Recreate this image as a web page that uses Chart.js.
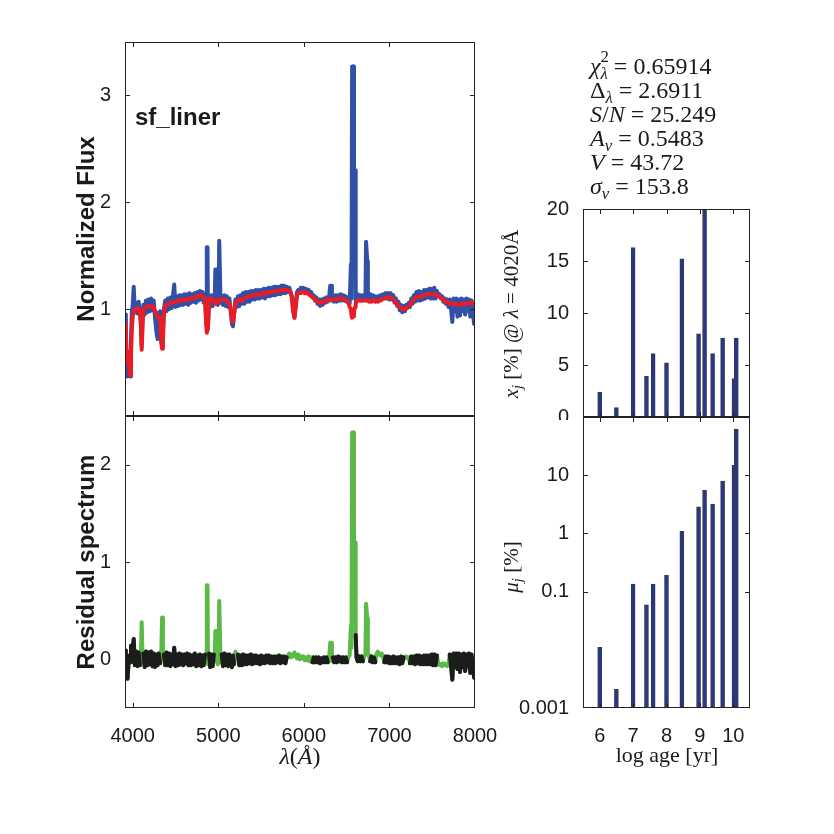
<!DOCTYPE html>
<html lang="en">
<head>
<meta charset="utf-8">
<title>sf_liner spectral fit</title>
<script src="https://cdn.jsdelivr.net/npm/chart.js@4.4.0/dist/chart.umd.min.js"></script>
<style>
	body { margin: 0; background: #fff; }
	#page { position: relative; width: 834px; height: 834px; overflow: hidden; background: #fff; }
	.panel { position: absolute; }
	.lbl { position: absolute; color: #1a1a1a; white-space: nowrap; }
	.sans { font-family: "Liberation Sans", Arial, sans-serif; }
	.serif { font-family: "Liberation Serif", "DejaVu Serif", serif; }
	.rot { transform: rotate(-90deg); text-align: center; }
	#stats div { height: 24px; }
	.lo { position: relative; top: 0.3em; font-size: 0.7em; }
	.hi { position: absolute; top: -0.45em; left: 0; font-size: 0.7em; }
</style>
<script>
	// spectrum (wavelength in Angstrom)
	const wavelength = [
		3910,3920,3930,3940,3950,3960,3970,3980,3990,4000,
		4012,4025,4040,4055,4070,4085,4095,4105,4115,4125,
		4140,4155,4170,4185,4200,4215,4230,4245,4260,4275,
		4290,4305,4320,4333,4343,4353,4365,4380,4395,4410,
		4425,4440,4455,4470,4485,4500,4515,4530,4545,4560,
		4575,4590,4605,4620,4635,4650,4665,4680,4695,4710,
		4725,4740,4755,4770,4785,4800,4815,4830,4845,4860,
		4866,4874,4880,4892,4905,4920,4935,4948,4958,4966,
		4974,4982,4995,5005,5011,5019,5027,5040,5055,5070,
		5085,5100,5115,5130,5145,5160,5172,5185,5200,5215,
		5230,5245,5260,5275,5290,5305,5320,5335,5350,5365,
		5380,5395,5410,5425,5440,5455,5470,5485,5500,5515,
		5530,5545,5560,5575,5590,5605,5620,5635,5650,5665,
		5680,5695,5710,5725,5740,5755,5770,5785,5800,5815,
		5830,5845,5860,5875,5890,5905,5920,5935,5950,5965,
		5980,5995,6010,6025,6040,6055,6070,6085,6100,6115,
		6130,6145,6160,6175,6190,6205,6220,6235,6250,6265,
		6280,6295,6308,6318,6328,6340,6355,6370,6385,6400,
		6415,6430,6445,6460,6475,6490,6505,6520,6535,6550,
		6557,6564,6576,6586,6598,6606,6615,6630,6645,6660,
		6675,6690,6705,6720,6727,6735,6741,6748,6760,6775,
		6790,6805,6820,6835,6850,6865,6880,6895,6910,6925,
		6940,6955,6970,6985,7000,7015,7030,7045,7060,7075,
		7090,7105,7120,7135,7150,7165,7180,7195,7210,7225,
		7240,7255,7270,7285,7300,7315,7330,7345,7360,7375,
		7390,7405,7420,7435,7450,7465,7480,7495,7510,7525,
		7540,7555,7570,7585,7600,7615,7630,7645,7660,7675,
		7690,7705,7720,7735,7750,7765,7780,7795,7810,7825,
		7840,7855,7870,7885,7900,7915,7930,7945,7960,7975,
		7990,8000
	];
	const observedFlux = [
		.95,.84,.46,.37,.52,.40,.37,.72,.97,1.04,
		1.21,.97,1.06,.96,1.07,.95,.90,.66,.90,1.04,
		.95,1.08,.97,1.09,.98,1.10,.99,1.08,.93,.80,
		.72,.86,.98,.70,.66,.78,1.00,1.08,.98,1.10,
		1.00,1.11,1.01,1.12,1.23,1.02,1.12,1.03,1.13,1.04,
		1.13,1.04,1.14,1.05,1.14,1.04,1.15,1.06,1.14,1.07,
		1.15,1.06,1.16,1.08,1.17,1.09,1.16,1.06,1.14,.85,
		1.58,1.58,.82,1.10,1.02,1.13,1.03,1.10,1.10,1.37,
		1.37,1.05,1.04,1.15,1.64,1.64,1.06,1.12,1.04,1.13,
		1.03,1.12,1.02,1.10,.98,.86,.84,.95,1.09,1.02,
		1.12,1.03,1.13,1.05,1.15,1.05,1.16,1.07,1.16,1.07,
		1.17,1.09,1.17,1.09,1.18,1.10,1.18,1.10,1.18,1.11,
		1.19,1.10,1.19,1.12,1.20,1.12,1.20,1.13,1.21,1.13,
		1.21,1.14,1.21,1.14,1.22,1.15,1.22,1.15,1.21,1.16,
		1.20,1.16,1.12,1.00,.92,1.05,1.16,1.18,1.16,1.20,
		1.17,1.20,1.16,1.19,1.15,1.18,1.14,1.16,1.12,1.13,
		1.08,1.11,1.05,1.09,1.03,1.09,1.04,1.10,1.06,1.11,
		1.07,1.11,1.22,1.22,1.08,1.12,1.07,1.13,1.07,1.13,
		1.08,1.14,1.08,1.13,1.08,1.12,1.07,1.10,1.05,1.42,
		1.10,3.27,3.27,2.30,2.30,1.08,1.09,1.14,1.09,1.13,
		1.08,1.13,1.10,1.12,1.63,1.63,1.45,1.12,1.10,1.14,
		1.08,1.13,1.08,1.12,1.10,1.12,1.09,1.13,1.09,1.14,
		1.10,1.15,1.10,1.15,1.09,1.15,1.09,1.13,1.06,1.10,
		1.03,1.07,.99,1.04,.97,1.03,.98,1.04,1.01,1.06,
		1.02,1.10,1.05,1.13,1.07,1.16,1.08,1.17,1.08,1.16,
		1.09,1.18,1.10,1.18,1.11,1.19,1.10,1.19,1.10,1.20,
		1.10,1.17,1.12,1.14,1.10,1.12,1.07,1.10,1.05,1.09,
		1.02,1.09,1.00,.88,1.10,.98,1.10,.93,1.09,.94,
		1.10,.98,1.09,.95,1.10,.98,1.09,.93,1.08,.96,
		.86,1.02
	];
	const modelFlux = [
		.86,.75,.56,.50,.60,.45,.38,.56,.82,.93,
		.98,1.00,1.00,1.01,1.00,.98,.85,.62,.86,1.00,
		1.01,1.02,1.02,1.03,1.02,1.03,1.03,1.02,.98,.97,
		.93,.92,.92,.70,.63,.72,.96,1.03,1.04,1.05,
		1.05,1.06,1.06,1.06,1.07,1.07,1.07,1.08,1.08,1.08,
		1.09,1.09,1.09,1.08,1.09,1.09,1.10,1.10,1.10,1.11,
		1.11,1.11,1.12,1.12,1.13,1.13,1.12,1.10,1.10,.85,
		.78,.80,.86,1.08,1.10,1.10,1.09,1.08,1.05,1.05,
		1.06,1.08,1.07,1.08,1.08,1.09,1.09,1.09,1.09,1.09,
		1.08,1.08,1.07,1.05,1.00,.90,.88,.96,1.04,1.07,
		1.08,1.08,1.09,1.08,1.09,1.10,1.11,1.11,1.12,1.12,
		1.12,1.13,1.13,1.13,1.14,1.14,1.14,1.13,1.14,1.15,
		1.15,1.14,1.15,1.15,1.16,1.16,1.16,1.16,1.17,1.17,
		1.17,1.17,1.17,1.18,1.18,1.18,1.18,1.18,1.18,1.17,
		1.17,1.16,1.10,.98,.92,1.02,1.13,1.15,1.15,1.15,
		1.16,1.16,1.15,1.16,1.15,1.14,1.13,1.12,1.11,1.10,
		1.09,1.08,1.07,1.06,1.06,1.06,1.07,1.07,1.08,1.08,
		1.09,1.09,1.09,1.09,1.09,1.09,1.09,1.09,1.10,1.09,
		1.10,1.10,1.10,1.10,1.09,1.08,1.08,1.06,1.02,1.00,
		.94,.92,.93,.98,1.02,1.05,1.07,1.08,1.08,1.08,
		1.08,1.08,1.08,1.08,1.08,1.08,1.08,1.08,1.07,1.08,
		1.07,1.08,1.08,1.07,1.08,1.07,1.08,1.08,1.09,1.10,
		1.10,1.11,1.11,1.11,1.11,1.11,1.10,1.09,1.07,1.06,
		1.05,1.03,1.02,1.01,1.00,1.00,1.00,1.01,1.02,1.03,
		1.04,1.06,1.08,1.09,1.10,1.11,1.11,1.12,1.12,1.12,
		1.13,1.13,1.13,1.14,1.14,1.14,1.14,1.14,1.14,1.14,
		1.13,1.13,1.12,1.12,1.11,1.10,1.09,1.08,1.07,1.06,
		1.06,1.05,1.05,1.05,1.05,1.05,1.05,1.04,1.04,1.04,
		1.05,1.05,1.05,1.05,1.05,1.05,1.06,1.06,1.06,1.05,
		1.05,1.06
	];
	const residualFlux = [
		.09,.02,-.10,-.20,-.06,.04,-.03,.14,.12,.10,
		.21,-.06,.08,-.07,.07,-.06,.02,.38,.01,.06,
		-.08,.08,-.06,.07,-.05,.08,-.07,.06,-.08,.05,
		-.06,.06,-.04,.02,.43,.02,.05,-.06,.07,-.06,
		.06,-.07,.05,-.05,.12,-.07,.05,-.06,.06,-.05,
		.05,-.06,.05,-.04,.06,-.06,.05,-.06,.04,-.05,
		.06,-.07,.04,-.06,.05,-.07,.04,-.06,.05,.00,
		.76,.76,-.05,.06,-.08,.05,-.07,.05,.03,.29,
		.29,-.02,-.05,.05,.60,.60,-.03,.05,-.07,.06,
		-.06,.05,-.07,.05,-.05,-.08,.04,-.05,.08,.02,
		.05,-.06,.04,-.06,.05,-.05,.04,-.05,.04,-.04,
		.05,-.05,.04,-.04,.04,-.04,.03,-.05,.04,-.04,
		.03,-.04,.04,-.03,.04,-.04,.03,-.04,.03,-.04,
		.03,-.03,.04,-.04,.03,-.03,.03,-.04,.02,.04,
		.06,.02,.05,.03,.07,.04,.01,.05,.00,.03,
		.01,.03,-.01,.02,-.01,.03,-.02,.02,-.03,.02,
		-.03,.02,-.03,.02,-.04,.01,-.03,.02,-.03,.02,
		-.03,.01,.17,.17,-.02,.02,-.03,.02,-.03,.03,
		-.02,.02,-.03,.02,-.03,.02,-.03,.02,.04,.35,
		.12,2.33,2.33,1.20,1.20,.25,.02,-.02,.03,-.02,
		.03,-.02,.03,.05,.57,.57,.42,.06,.04,-.02,
		.03,-.03,.02,-.03,.06,.08,.05,.04,.06,.03,
		-.03,.03,-.03,.03,-.04,.02,-.04,.03,-.04,.02,
		-.04,.02,-.05,.03,-.04,.02,.01,.03,.01,.02,
		-.04,.03,-.04,.03,-.05,.04,-.04,.04,-.05,.03,
		-.05,.04,-.05,.04,-.05,.04,-.05,.05,-.06,.05,
		-.06,.04,-.04,-.06,-.05,-.07,-.04,-.06,-.05,-.07,
		-.04,.05,-.07,-.21,.06,-.08,.06,-.10,.06,-.13,
		.05,-.08,.06,-.12,.05,-.07,.06,-.14,.05,-.08,
		-.19,-.04
	];
	// 1 = pixel masked from the fit (drawn green in the residual)
	const maskedPixel = [
		0,0,0,0,0,0,0,0,0,0,
		0,0,0,0,0,0,1,1,1,0,
		0,0,0,0,0,0,0,0,0,0,
		0,0,0,1,1,1,0,0,0,0,
		0,0,0,0,0,0,0,0,0,0,
		0,0,0,0,0,0,0,0,0,0,
		0,0,0,0,0,0,0,0,0,1,
		1,1,1,0,0,0,0,0,1,1,
		1,1,1,1,1,1,1,0,0,0,
		0,0,0,0,0,0,0,0,1,1,
		0,0,0,0,0,0,0,0,0,0,
		0,0,0,0,0,0,0,0,0,0,
		0,0,0,0,0,0,0,0,0,0,
		0,0,0,0,0,0,0,0,0,1,
		1,1,1,1,1,1,1,1,1,1,
		1,1,1,1,1,1,1,1,0,0,
		0,0,0,0,0,0,0,0,0,0,
		0,1,1,1,1,0,0,0,0,0,
		0,0,0,0,0,0,0,1,1,1,
		1,1,1,1,1,0,0,0,0,0,
		0,0,1,1,1,1,1,1,1,0,
		0,0,0,0,1,1,1,1,1,1,
		0,0,0,0,0,0,0,0,0,0,
		0,0,0,0,0,0,1,1,1,1,
		0,0,0,0,0,0,0,0,0,0,
		0,0,0,0,0,0,0,0,0,0,
		0,0,1,1,1,1,1,1,1,1,
		1,0,0,0,0,0,0,0,0,0,
		0,0,0,0,0,0,0,0,0,0,
		0,0
	];

	// population vectors
	const logAge = [6.0, 6.5, 7.0, 7.4, 7.6, 8.0, 8.46, 8.96, 9.14, 9.38, 9.68, 10.02, 10.09];
	const lightFraction = [2.4, 0.9, 16.3, 3.9, 6.1, 5.2, 15.2, 8.0, 19.9, 6.1, 7.6, 3.7, 7.6];
	const massFraction = [0.011, 0.0021, 0.135, 0.059, 0.135, 0.19, 1.08, 2.85, 5.5, 3.2, 7.9, 14.8, 62];

	// tick values
	const waveTicks = [4000, 5000, 6000, 7000, 8000];
	const fluxTicks = [1, 2, 3];
	const residTicks = [0, 1, 2];
	const ageTicks = [6, 7, 8, 9, 10];
	const lightTicks = [0, 5, 10, 15, 20];
	const massTicks = [0.001, 0.1, 1, 10];
</script>
</head>

<body>
	<div id="page">
		<div class="panel" style="left:0;top:0;width:520px;height:420px;"><canvas id="fluxChart"></canvas></div>
		<div class="panel" style="left:0;top:410px;width:520px;height:424px;"><canvas id="residChart"></canvas></div>
		<div class="panel" style="left:500px;top:0;width:334px;height:420px;"><canvas id="lightChart"></canvas></div>
		<div class="panel" style="left:500px;top:410px;width:334px;height:424px;"><canvas id="massChart"></canvas></div>

		<div class="lbl sans" style="left:135px;top:105px;font-size:24px;font-weight:bold;line-height:24px;">sf_liner</div>
		<div class="lbl sans rot" style="left:-44px;top:214px;width:260px;height:30px;line-height:30px;font-size:24px;font-weight:bold;">Normalized Flux</div>
		<div class="lbl sans rot" style="left:-44px;top:547px;width:260px;height:30px;line-height:30px;font-size:24px;font-weight:bold;">Residual spectrum</div>
		<div class="lbl serif" style="left:250px;top:741px;width:100px;height:30px;line-height:30px;font-size:24px;text-align:center;"><i>λ</i>(<i>Å</i>)</div>

		<div class="lbl serif" id="stats" style="left:590px;top:54px;font-size:24px;line-height:24px;">
			<div><i>χ</i><span style="position:relative;"><span class="hi">2</span><span class="lo"><i>λ</i></span></span> = 0.65914</div>
			<div>Δ<span class="lo"><i>λ</i></span> = 2.6911</div>
			<div><i>S</i>/<i>N</i> = 25.249</div>
			<div><i>A</i><span class="lo"><i>v</i></span> = 0.5483</div>
			<div><i>V</i> = 43.72</div>
			<div><i>σ</i><span class="lo"><i>v</i></span> = 153.8</div>
		</div>
		<div class="lbl serif rot" style="left:396px;top:301px;width:230px;height:26px;line-height:26px;font-size:21px;"><i>x</i><span class="lo"><i>j</i></span> [%] @ <i>λ</i> = 4020Å</div>
		<div class="lbl serif rot" style="left:396px;top:554px;width:230px;height:26px;line-height:26px;font-size:21px;"><i>μ</i><span class="lo"><i>j</i></span> [%]</div>
		<div class="lbl serif" style="left:587px;top:740px;width:160px;height:30px;line-height:30px;font-size:22px;text-align:center;">log age [yr]</div>
	</div>

	<script>
		const tickFont = { family: 'Liberation Sans', size: 20 };
		const ink = '#1a1a1a';

		// box around the plot area with inward tick marks on all four sides
		const frameTicks = {
			id: 'frameTicks',
			afterDatasetsDraw(chart) {
				const { ctx, chartArea: a } = chart;
				const xs = chart.scales.x, ys = chart.scales.y;
				const len = 5;
				ctx.save();
				ctx.strokeStyle = '#222';
				ctx.lineWidth = 1;
				ctx.beginPath();
				xs.ticks.forEach(t => {
					const px = Math.round(xs.getPixelForValue(t.value)) + 0.5;
					if (px < a.left + 2 || px > a.right - 2) return;
					ctx.moveTo(px, a.bottom); ctx.lineTo(px, a.bottom - len);
					ctx.moveTo(px, a.top); ctx.lineTo(px, a.top + len);
				});
				ys.ticks.forEach(t => {
					const py = Math.round(ys.getPixelForValue(t.value)) + 0.5;
					if (py < a.top + 2 || py > a.bottom - 2) return;
					ctx.moveTo(a.left, py); ctx.lineTo(a.left + len, py);
					ctx.moveTo(a.right, py); ctx.lineTo(a.right - len, py);
				});
				ctx.stroke();
				ctx.strokeRect(Math.round(a.left) + 0.5, Math.round(a.top) + 0.5, Math.round(a.width) - 1, Math.round(a.height) - 1);
				ctx.restore();
			}
		};

		function setTicks(list) {
			return function (scale) { scale.ticks = list.map(v => ({ value: v })); };
		}

		function xAxis(min, max, list, showLabels) {
			return {
				type: 'linear', min: min, max: max, offset: false,
				afterBuildTicks: setTicks(list),
				ticks: { display: showLabels, font: tickFont, color: ink, padding: 8, maxRotation: 0, callback: v => String(v) },
				grid: { display: false }, border: { display: false },
				afterFit: s => {
					s.height = showLabels ? 40 : 0;
					s.paddingLeft = 0;
					s.paddingRight = 0;
				}
			};
		}

		function yAxis(min, max, list, width, type) {
			return {
				type: type || 'linear', min: min, max: max,
				afterBuildTicks: setTicks(list),
				ticks: { font: tickFont, color: ink, padding: 6, callback: v => String(v) },
				grid: { display: false }, border: { display: false },
				afterFit: s => {
					s.width = width;
					s.paddingTop = 0;
					s.paddingBottom = 0;
				}
			};
		}

		const common = {
			animation: false,
			responsive: true,
			maintainAspectRatio: false,
			plugins: { legend: { display: false }, tooltip: { enabled: false } }
		};

		const obsPts = wavelength.map((w, i) => ({ x: w, y: observedFlux[i] }));
		const modelPts = wavelength.map((w, i) => ({ x: w, y: modelFlux[i] }));
		const residAll = wavelength.map((w, i) => ({ x: w, y: residualFlux[i] }));
		const residFit = wavelength.map((w, i) => ({ x: w, y: maskedPixel[i] ? null : residualFlux[i] }));

		const lineStyle = { pointRadius: 0, borderWidth: 4, tension: 0, borderJoinStyle: 'round', borderCapStyle: 'round', fill: false };

		// first dataset is drawn on top
		new Chart(document.getElementById('fluxChart'), {
			type: 'line',
			data: {
				datasets: [
					Object.assign({ label: 'Model', data: modelPts, borderColor: '#ec1c24' }, lineStyle),
					Object.assign({ label: 'Observed', data: obsPts, borderColor: '#3151a6' }, lineStyle)
				]
			},
			options: Object.assign({}, common, {
				layout: { padding: { top: 42, right: 45, bottom: 4, left: 0 } },
				scales: { x: xAxis(3910, 8000, waveTicks, false), y: yAxis(0, 3.5, fluxTicks, 125) }
			}),
			plugins: [frameTicks]
		});

		new Chart(document.getElementById('residChart'), {
			type: 'line',
			data: {
				datasets: [
					Object.assign({ label: 'Fitted', data: residFit, borderColor: '#1c1c1c', spanGaps: false }, lineStyle),
					Object.assign({ label: 'Masked', data: residAll, borderColor: '#5bb947' }, lineStyle)
				]
			},
			options: Object.assign({}, common, {
				layout: { padding: { top: 6, right: 45, bottom: 86, left: 0 } },
				scales: { x: xAxis(3910, 8000, waveTicks, true), y: yAxis(-0.5, 2.5, residTicks, 125) }
			}),
			plugins: [frameTicks]
		});

		const barStyle = { backgroundColor: '#24378e', borderColor: '#3a3a44', borderWidth: 1, barThickness: 4 };

		new Chart(document.getElementById('lightChart'), {
			type: 'bar',
			data: { datasets: [Object.assign({ label: 'x_j', data: logAge.map((a, i) => ({ x: a, y: lightFraction[i] })) }, barStyle)] },
			options: Object.assign({}, common, {
				layout: { padding: { top: 209, right: 84, bottom: 3, left: 0 } },
				scales: { x: xAxis(5.5, 10.5, ageTicks, false), y: yAxis(0, 20, lightTicks, 83) }
			}),
			plugins: [frameTicks]
		});

		new Chart(document.getElementById('massChart'), {
			type: 'bar',
			data: { datasets: [Object.assign({ label: 'mu_j', data: logAge.map((a, i) => ({ x: a, y: massFraction[i] })) }, barStyle)] },
			options: Object.assign({}, common, {
				layout: { padding: { top: 7, right: 84, bottom: 86, left: 0 } },
				scales: { x: xAxis(5.5, 10.5, ageTicks, true), y: yAxis(0.001, 100, massTicks, 83, 'logarithmic') }
			}),
			plugins: [frameTicks]
		});
	</script>
</body>

</html>
